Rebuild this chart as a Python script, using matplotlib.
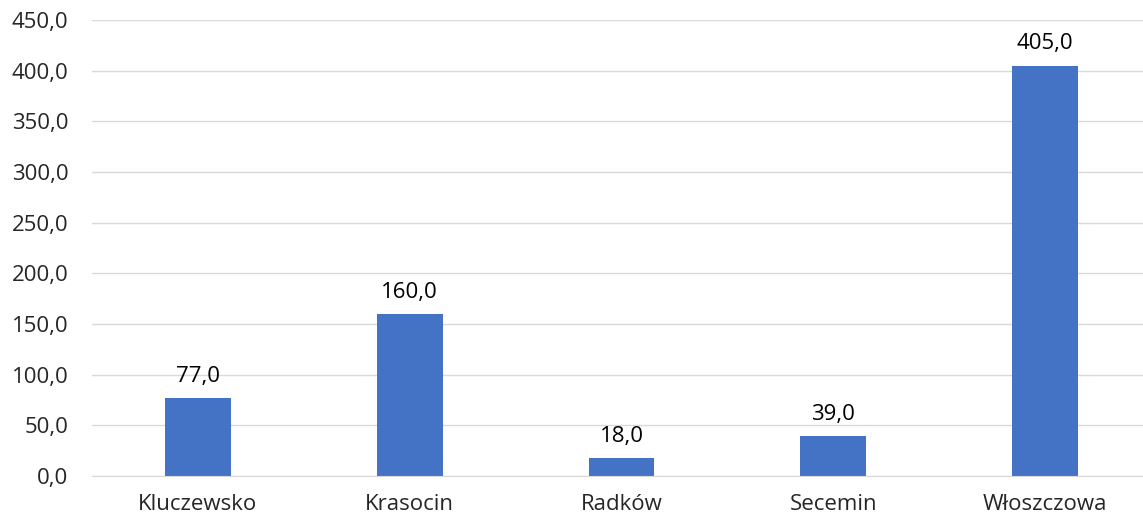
import matplotlib
matplotlib.use("Agg")
import matplotlib.pyplot as plt
from matplotlib.ticker import FuncFormatter, MultipleLocator

categories = ["Kluczewsko", "Krasocin", "Radków", "Secemin", "Włoszczowa"]
values = [77.0, 160.0, 18.0, 39.0, 405.0]

plt.rcParams['font.family'] = ['Open Sans', 'DejaVu Sans']

W, H = 1143, 525
fig = plt.figure(figsize=(W/100, H/100), dpi=100)
left, right, top, bottom = 92, 1151, 20, 476
ax = fig.add_axes([left/W, 1-bottom/H, (right-left)/W, (bottom-top)/H])

x = range(len(categories))
bars = ax.bar(x, values, width=0.31, color="#4472C4", zorder=3)
for xi, v in zip(x, values):
    ax.annotate(f"{v:.1f}".replace(".", ","), (xi, v), xytext=(0, 8), textcoords="offset points",
                ha="center", va="bottom", fontsize=16, color="black", fontweight="medium")

ax.set_xlim(-0.5, len(categories) - 0.5)
ax.set_ylim(0, 450)
ax.yaxis.set_major_locator(MultipleLocator(50))
ax.yaxis.set_major_formatter(FuncFormatter(lambda v, p: f"{v:.1f}".replace(".", ",")))
ax.set_xticks(list(x))
ax.set_xticklabels(categories)
ax.tick_params(axis="both", length=0, labelsize=16, colors="#404040", labelcolor="#262626")
ax.tick_params(axis="x", pad=13)
ax.tick_params(axis="y", pad=17)
ax.grid(axis="y", color="#D9D9D9", linewidth=1, zorder=0)
for s in ["top", "right", "left"]:
    ax.spines[s].set_visible(False)
ax.spines["bottom"].set_color("#D9D9D9")
ax.spines["bottom"].set_zorder(4)

fig.savefig("out.png", dpi=100)
